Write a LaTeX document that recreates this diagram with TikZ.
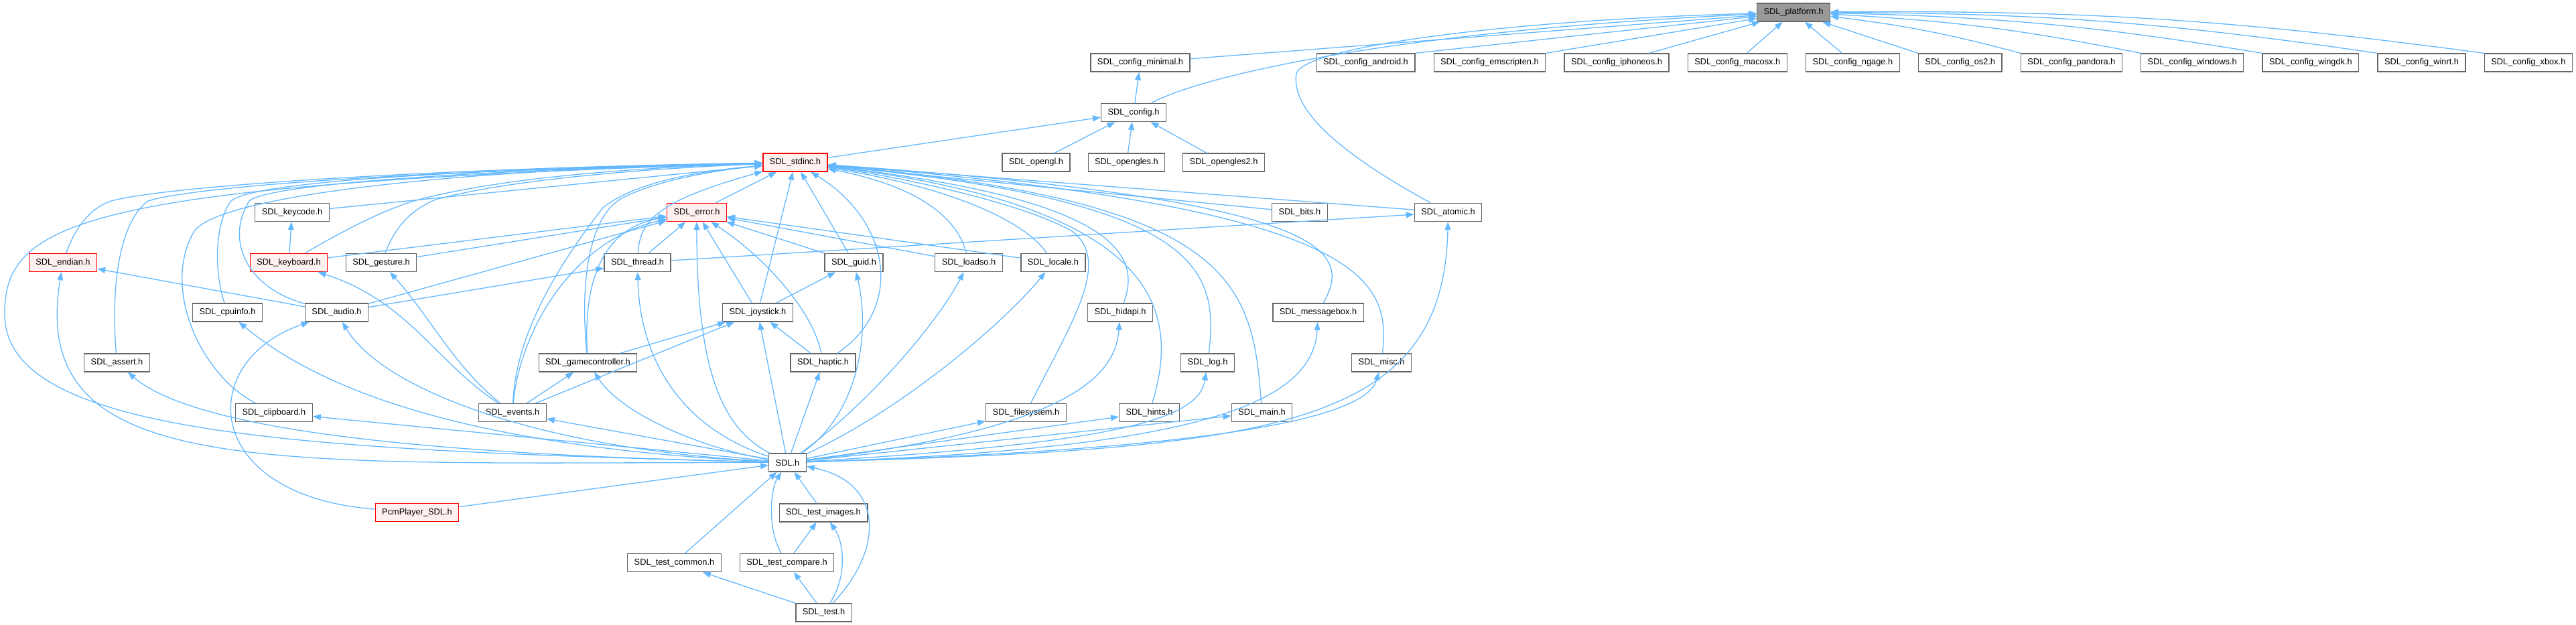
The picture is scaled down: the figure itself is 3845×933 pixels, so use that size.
\documentclass[tikz,border=0pt]{standalone}
\usepackage{fontspec}
\usepackage{tikz}
\usetikzlibrary{arrows.meta,positioning}
\newfontfamily\hdrfont{Liberation Sans}
\definecolor{edgeblue}{HTML}{63B8FF}
\definecolor{boxgrey}{HTML}{666666}
\definecolor{rootgrey}{HTML}{999999}
\definecolor{cutpink}{HTML}{FFF0F0}
\tikzset{
  header/.style={
    draw=boxgrey,
    fill=white,
    line width=1.3pt,
    minimum height=27pt,
    inner xsep=10pt,
    inner ysep=0pt,
    font=\hdrfont\fontsize{12.8}{15}\selectfont
  },
  partial/.style={
    header,
    draw=red,
    fill=cutpink
  },
  focus/.style={
    header,
    fill=rootgrey
  },
  incl/.style={
    -{Triangle[length=12pt,width=9pt]},
    line width=1.3pt,
    draw=edgeblue,
    fill=none
  }
}

\begin{document}
\begin{tikzpicture}[x=1pt,y=-1pt]
\useasboundingbox (0,0) rectangle (3845,933);
\node[focus] (platform) at (2677,18.5) {SDL\_platform.h};
\node[header] (cfgmin) at (1702,93.5) {SDL\_config\_minimal.h};
\node[header] (android) at (2038.5,93.5) {SDL\_config\_android.h};
\node[header,right=27pt of android] (emscripten) {SDL\_config\_emscripten.h};
\node[header,right=27pt of emscripten] (iphoneos) {SDL\_config\_iphoneos.h};
\node[header,right=27pt of iphoneos] (macosx) {SDL\_config\_macosx.h};
\node[header,right=27pt of macosx] (ngage) {SDL\_config\_ngage.h};
\node[header,right=27pt of ngage] (os2) {SDL\_config\_os2.h};
\node[header,right=27pt of os2] (pandora) {SDL\_config\_pandora.h};
\node[header,right=27pt of pandora] (windows) {SDL\_config\_windows.h};
\node[header,right=27pt of windows] (wingdk) {SDL\_config\_wingdk.h};
\node[header,right=27pt of wingdk] (winrt) {SDL\_config\_winrt.h};
\node[header,right=27pt of winrt] (xbox) {SDL\_config\_xbox.h};
\node[header] (config) at (1692,168) {SDL\_config.h};
\node[partial] (stdinc) at (1187,242.5) {SDL\_stdinc.h};
\node[header] (opengl) at (1546.5,242.5) {SDL\_opengl.h};
\node[header] (opengles) at (1681.5,242.5) {SDL\_opengles.h};
\node[header] (opengles2) at (1826.5,242.5) {SDL\_opengles2.h};
\node[partial] (error) at (1040,317) {SDL\_error.h};
\node[header] (keycode) at (436,317) {SDL\_keycode.h};
\node[header] (bits) at (1940,317) {SDL\_bits.h};
\node[header] (atomic) at (2161.5,317) {SDL\_atomic.h};
\node[partial] (endian) at (94,392) {SDL\_endian.h};
\node[partial] (keyboard) at (431,392) {SDL\_keyboard.h};
\node[header] (gesture) at (569,392) {SDL\_gesture.h};
\node[header] (thread) at (951.5,392) {SDL\_thread.h};
\node[header] (guid) at (1274.5,392) {SDL\_guid.h};
\node[header] (loadso) at (1446,392) {SDL\_loadso.h};
\node[header] (locale) at (1572,392) {SDL\_locale.h};
\node[header] (cpuinfo) at (339.5,466.5) {SDL\_cpuinfo.h};
\node[header] (audio) at (502.5,466.5) {SDL\_audio.h};
\node[header] (joystick) at (1131,466.5) {SDL\_joystick.h};
\node[header] (hidapi) at (1672,466.5) {SDL\_hidapi.h};
\node[header] (messagebox) at (1967.5,466.5) {SDL\_messagebox.h};
\node[header] (assert) at (174.5,541.5) {SDL\_assert.h};
\node[header] (gamectrl) at (877.5,541.5) {SDL\_gamecontroller.h};
\node[header] (haptic) at (1228.5,541.5) {SDL\_haptic.h};
\node[header] (log) at (1802.5,541.5) {SDL\_log.h};
\node[header] (misc) at (2062,541.5) {SDL\_misc.h};
\node[header] (clipboard) at (409,616) {SDL\_clipboard.h};
\node[header] (events) at (765,616) {SDL\_events.h};
\node[header] (filesystem) at (1531.5,616) {SDL\_filesystem.h};
\node[header] (hints) at (1715.5,616) {SDL\_hints.h};
\node[header] (main) at (1883.5,616) {SDL\_main.h};
\node[header] (sdl) at (1175.5,690.5) {SDL.h};
\node[partial] (pcm) at (622.5,765) {PcmPlayer\_SDL.h};
\node[header] (testimages) at (1229,765.5) {SDL\_test\_images.h};
\node[header] (testcommon) at (1006.5,840) {SDL\_test\_common.h};
\node[header] (testcompare) at (1174.5,840) {SDL\_test\_compare.h};
\node[header] (test) at (1229.5,914.5) {SDL\_test.h};
\draw[incl] (cfgmin) -- (platform);
\draw[incl] (config) .. controls (1800,110) and (2100,45) .. (platform);
\draw[incl] (android.north east) -- (platform);
\draw[incl] (emscripten.north east) -- (platform);
\draw[incl] ([xshift=-30pt]iphoneos.north east) -- (platform);
\draw[incl] ([xshift=14pt]macosx.north) -- (platform);
\draw[incl] ([xshift=-16pt]ngage.north) -- (platform);
\draw[incl] (os2.north west) -- (platform);
\draw[incl] (pandora.north west) to[bend right=4] (platform);
\draw[incl] (windows.north west) to[bend right=4] (platform);
\draw[incl] (wingdk.north west) to[bend right=4] (platform);
\draw[incl] (winrt.north west) to[bend right=4] (platform);
\draw[incl] (xbox.north west) to[bend right=4] (platform);
\draw[incl] (atomic) .. controls (2020,240) and (1925,170) .. (1935,110) .. controls (1945,70) and (2250,30) .. (platform);
\draw[incl] (config) -- (cfgmin);
\draw[incl] (stdinc) -- (config);
\draw[incl] (opengl) -- (config);
\draw[incl] (opengles) -- (config);
\draw[incl] (opengles2) -- (config);
\draw[incl] (sdl) .. controls (450,672) and (8,650) .. (7,470) .. controls (6,330) and (120,275) .. (stdinc);
\draw[incl] (endian) .. controls (112,340) and (135,310) .. (166,300) .. controls (260,275) and (700,250) .. (stdinc);
\draw[incl] (assert) .. controls (165,420) and (180,330) .. (221,300) .. controls (300,275) and (700,252) .. (stdinc);
\draw[incl] (clipboard) .. controls (300,560) and (240,430) .. (290,345) .. controls (330,290) and (700,252) .. (stdinc);
\draw[incl] (cpuinfo) .. controls (318,400) and (322,330) .. (345,300) .. controls (380,270) and (700,253) .. (stdinc);
\draw[incl] (audio) .. controls (370,430) and (335,360) .. (372,300) .. controls (400,275) and (700,254) .. (stdinc);
\draw[incl] (keyboard) .. controls (520,340) and (580,310) .. (625,298) .. controls (750,265) and (950,250) .. (stdinc);
\draw[incl] (gesture) .. controls (590,340) and (610,315) .. (650,298) .. controls (760,268) and (960,252) .. (stdinc);
\draw[incl] (keycode) -- (stdinc);
\draw[incl] (thread) .. controls (955,330) and (980,300) .. (stdinc);
\draw[incl] (events) .. controls (770,500) and (830,400) .. (900,310) .. controls (950,270) and (1050,255) .. (stdinc);
\draw[incl] (gamectrl) .. controls (865,420) and (880,320) .. (930,295) .. controls (980,270) and (1060,255) .. (stdinc);
\draw[incl] (error) -- (stdinc);
\draw[incl] (guid) -- (stdinc);
\draw[incl] (joystick) -- (stdinc);
\draw[incl] (haptic) .. controls (1350,460) and (1330,330) .. (stdinc);
\draw[incl] (loadso) .. controls (1430,330) and (1380,280) .. (stdinc);
\draw[incl] (locale) .. controls (1530,330) and (1420,280) .. (stdinc);
\draw[incl] (filesystem) .. controls (1600,480) and (1660,390) .. (1600,345) .. controls (1520,300) and (1330,262) .. (stdinc);
\draw[incl] (hidapi) .. controls (1700,390) and (1690,300) .. (stdinc);
\draw[incl] (hints) .. controls (1760,470) and (1740,310) .. (stdinc);
\draw[incl] (log) .. controls (1820,400) and (1790,300) .. (stdinc);
\draw[incl] (main) .. controls (1870,420) and (1840,300) .. (stdinc);
\draw[incl] (messagebox) .. controls (2015,380) and (2010,300) .. (stdinc);
\draw[incl] (misc) .. controls (2075,420) and (2050,310) .. (stdinc);
\draw[incl] (bits) -- (stdinc);
\draw[incl] (atomic) -- (stdinc);
\draw[incl] (keyboard) -- (error);
\draw[incl] (gesture) -- (error);
\draw[incl] (audio) -- (error);
\draw[incl] (events) .. controls (775,500) and (850,360) .. (error);
\draw[incl] (gamectrl) .. controls (870,420) and (900,340) .. (error);
\draw[incl] (thread) -- (error);
\draw[incl] (joystick) -- (error);
\draw[incl] (haptic) .. controls (1215,470) and (1150,390) .. (error);
\draw[incl] (guid) -- (error);
\draw[incl] (loadso) -- (error);
\draw[incl] (locale) -- (error);
\draw[incl] (sdl) .. controls (1080,640) and (1040,560) .. (error);
\draw[incl] (keyboard) -- (keycode);
\draw[incl] (audio) -- (endian);
\draw[incl] (audio) -- (thread);
\draw[incl] (thread) -- (atomic);
\draw[incl] (joystick) -- (guid);
\draw[incl] (haptic) -- (joystick);
\draw[incl] (gamectrl) -- (joystick);
\draw[incl] (events) -- (joystick);
\draw[incl] (events) -- (gamectrl);
\draw[incl] (events) .. controls (650,540) and (610,450) .. (keyboard);
\draw[incl] (events) .. controls (680,550) and (640,470) .. (gesture);
\draw[incl] (pcm) .. controls (300,740) and (290,540) .. (audio);
\draw[incl] (sdl) .. controls (400,690) and (40,720) .. (endian);
\draw[incl] (sdl) .. controls (700,680) and (300,650) .. (assert);
\draw[incl] (sdl) -- (clipboard);
\draw[incl] (sdl) .. controls (750,670) and (500,600) .. (cpuinfo);
\draw[incl] (sdl) .. controls (800,670) and (570,580) .. (audio);
\draw[incl] (sdl) -- (events);
\draw[incl] (sdl) .. controls (1050,670) and (930,620) .. (gamectrl);
\draw[incl] (sdl) .. controls (1020,640) and (955,540) .. (thread);
\draw[incl] (sdl) -- (joystick);
\draw[incl] (sdl) -- (haptic);
\draw[incl] (sdl) .. controls (1280,620) and (1300,500) .. (guid);
\draw[incl] (sdl) .. controls (1300,600) and (1400,480) .. (loadso);
\draw[incl] (sdl) .. controls (1350,610) and (1500,480) .. (locale);
\draw[incl] (sdl) -- (filesystem);
\draw[incl] (sdl) -- (hints);
\draw[incl] (sdl) -- (main);
\draw[incl] (sdl) .. controls (1600,640) and (1665,560) .. (hidapi);
\draw[incl] (sdl) .. controls (1700,660) and (1790,620) .. (log);
\draw[incl] (sdl) .. controls (1800,670) and (1960,600) .. (messagebox);
\draw[incl] (sdl) .. controls (1850,670) and (2040,620) .. (misc);
\draw[incl] (sdl) .. controls (1900,670) and (2155,640) .. (atomic);
\draw[incl] (pcm) -- (sdl);
\draw[incl] (testimages) -- (sdl);
\draw[incl] (testcommon) -- (sdl);
\draw[incl] (testcompare) .. controls (1145,790) and (1150,730) .. (sdl);
\draw[incl] (test) .. controls (1320,820) and (1320,720) .. (sdl);
\draw[incl] (testcompare) -- (testimages);
\draw[incl] (test) .. controls (1265,860) and (1260,810) .. (testimages);
\draw[incl] (test) -- (testcompare);
\draw[incl] (test) -- (testcommon);
\end{tikzpicture}
\end{document}
